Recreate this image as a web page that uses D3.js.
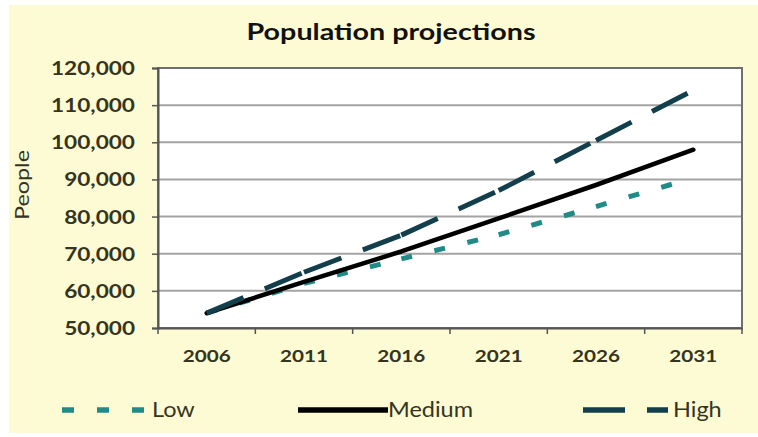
<!DOCTYPE html>
<html>
<head>
<meta charset="utf-8">
<script src="https://cdn.jsdelivr.net/npm/d3@7"></script>
<style>
  html, body { margin: 0; padding: 0; background: #ffffff; }
  svg { display: block; font-family: Lato, "Open Sans", sans-serif; }
</style>
</head>
<body>
<div id="chart"></div>
<script>
"use strict";

// data
const years = ["2006", "2011", "2016", "2021", "2026", "2031"];
const lowValues = [54000, 62000, 68600, 75100, 82700, 90400];
const mediumValues = [54000, 62400, 70600, 79500, 88500, 98000];
const highValues = [54000, 65000, 75000, 87000, 100500, 114000];
const yTicks = [50000, 60000, 70000, 80000, 90000, 100000, 110000, 120000];
const seriesNames = ["Low", "Medium", "High"];

const width = 758;
const height = 437;
const plot = { left: 158, top: 68, right: 742, bottom: 328 };
const textColor = "#35351f";

const styles = {
    Low: { color: "#1f8a86", width: 5, dash: "11,23", cap: "butt" },
    Medium: { color: "#000000", width: 4.5, dash: null, cap: "round" },
    High: { color: "#123f4b", width: 5, dash: "40,23", cap: "butt" }
};

const series = [
    { name: "Low", values: lowValues },
    { name: "Medium", values: mediumValues },
    { name: "High", values: highValues }
];

// stretch a group of texts so that the widest one gets the wanted width
const stretchTo = function (sel, wanted) {
    let widest = 0;
    sel.each(function () { widest = Math.max(widest, this.getComputedTextLength()); });
    const k = wanted / widest;
    sel.each(function () {
        d3.select(this)
            .attr("textLength", this.getComputedTextLength() * k)
            .attr("lengthAdjust", "spacingAndGlyphs");
    });
};

const svg = d3.select("#chart")
    .append("svg")
        .attr("width", width)
        .attr("height", height);

// pale yellow panel
svg.append("rect")
    .attr("x", 9)
    .attr("y", 5)
    .attr("width", width - 9)
    .attr("height", 428)
    .attr("fill", "#fdfbd3");

const x = d3.scaleBand()
    .domain(years)
    .range([plot.left, plot.right])
    .padding(0);

const y = d3.scaleLinear()
    .domain([50000, 120000])
    .range([plot.bottom, plot.top]);

// plot area
svg.append("rect")
    .attr("x", plot.left)
    .attr("y", plot.top)
    .attr("width", plot.right - plot.left)
    .attr("height", plot.bottom - plot.top)
    .attr("fill", "#ffffff");

svg.append("g")
    .attr("class", "grid")
    .selectAll("line")
    .data(yTicks.slice(1, -1))
    .enter()
    .append("line")
        .attr("x1", plot.left)
        .attr("x2", plot.right)
        .attr("y1", d => y(d))
        .attr("y2", d => y(d))
        .attr("stroke", "#a3a3a3")
        .attr("stroke-width", 2);

svg.append("rect")
    .attr("x", plot.left)
    .attr("y", plot.top)
    .attr("width", plot.right - plot.left)
    .attr("height", plot.bottom - plot.top)
    .attr("fill", "none")
    .attr("stroke", "#6f6f6f")
    .attr("stroke-width", 2);

// y axis
const yAxis = svg.append("g")
    .attr("transform", `translate(${plot.left},0)`)
    .call(d3.axisLeft(y)
        .tickValues(yTicks)
        .tickSize(6)
        .tickPadding(17)
        .tickFormat(d3.format(",")));

yAxis.select(".domain").attr("stroke", "#555555").attr("stroke-width", 2);
yAxis.selectAll(".tick line").attr("stroke", "#555555").attr("stroke-width", 1.5);
yAxis.selectAll(".tick text")
    .attr("fill", textColor)
    .attr("font-size", 18)
    .attr("font-weight", 700)
    .attr("font-family", "Lato, sans-serif")
    .attr("dy", "0.36em");
stretchTo(yAxis.selectAll(".tick text"), 84);

// x axis: labels at band centres, tick marks on band edges
const xAxis = svg.append("g")
    .attr("transform", `translate(0,${plot.bottom})`)
    .call(d3.axisBottom(x)
        .tickSize(0)
        .tickPadding(28));

xAxis.select(".domain").attr("stroke", "#555555").attr("stroke-width", 2);
xAxis.selectAll(".tick text")
    .attr("fill", textColor)
    .attr("font-size", 17)
    .attr("font-weight", 700)
    .attr("font-family", "Lato, sans-serif")
    .attr("dy", "0.35em");
stretchTo(xAxis.selectAll(".tick text"), 48);

xAxis.selectAll(".edge")
    .data(years.map(d => x(d)).concat([x.range()[1]]))
    .enter()
    .append("line")
        .attr("class", "edge")
        .attr("x1", d => d)
        .attr("x2", d => d)
        .attr("y1", 0)
        .attr("y2", 6)
        .attr("stroke", "#555555")
        .attr("stroke-width", 1.5);

// lines
const lineGenerator = d3.line()
    .x(d => x(d.year) + x.bandwidth() / 2)
    .y(d => y(d.value));

const lineGroup = svg.append("g").attr("class", "lines");

series.forEach(s => {
    const st = styles[s.name];
    const pts = s.values.map((v, i) => ({ year: years[i], value: v }));
    // Excel restarts the dash pattern on every segment
    const pieces = st.dash ? d3.pairs(pts) : [pts];
    lineGroup.append("g")
        .attr("class", "series-" + s.name)
        .selectAll("path")
        .data(pieces)
        .enter()
        .append("path")
            .attr("d", d => lineGenerator(d))
            .attr("fill", "none")
            .attr("stroke", st.color)
            .attr("stroke-width", st.width)
            .attr("stroke-linecap", st.cap)
            .attr("stroke-linejoin", "round")
            .attr("stroke-dasharray", st.dash);
});

// title
const title = svg.append("text")
    .attr("x", 391)
    .attr("y", 40)
    .attr("text-anchor", "middle")
    .attr("font-size", 23)
    .attr("font-weight", 700)
    .attr("font-family", "Lato, sans-serif")
    .attr("fill", "#111111")
    .text("Population projections");
stretchTo(title, 289);

// y axis title
const yTitle = svg.append("text")
    .attr("transform", "translate(29,185) rotate(-90)")
    .attr("text-anchor", "middle")
    .attr("font-size", 19)
    .attr("font-family", "Lato, sans-serif")
    .attr("fill", textColor)
    .text("People");
stretchTo(yTitle, 70);

// legend
const legendSpots = [
    { x1: 62, x2: 146, tx: 152 },
    { x1: 298, x2: 388, tx: 388 },
    { x1: 583, x2: 668, tx: 673 }
];
const legendDash = { Low: "12,23", Medium: null, High: "42,22" };

const legend = svg.append("g")
    .attr("class", "legend")
    .selectAll("g")
    .data(seriesNames)
    .enter()
    .append("g");

legend.append("line")
    .attr("x1", (d, i) => legendSpots[i].x1)
    .attr("x2", (d, i) => legendSpots[i].x2)
    .attr("y1", 410)
    .attr("y2", 410)
    .attr("stroke", d => styles[d].color)
    .attr("stroke-width", 5.5)
    .attr("stroke-linecap", "butt")
    .attr("stroke-dasharray", d => legendDash[d]);

const legendText = legend.append("text")
    .attr("x", (d, i) => legendSpots[i].tx)
    .attr("y", 417)
    .attr("font-size", 21)
    .attr("font-family", "Lato, sans-serif")
    .attr("fill", textColor)
    .text(d => d);
stretchTo(legendText, 85);
</script>
</body>
</html>
